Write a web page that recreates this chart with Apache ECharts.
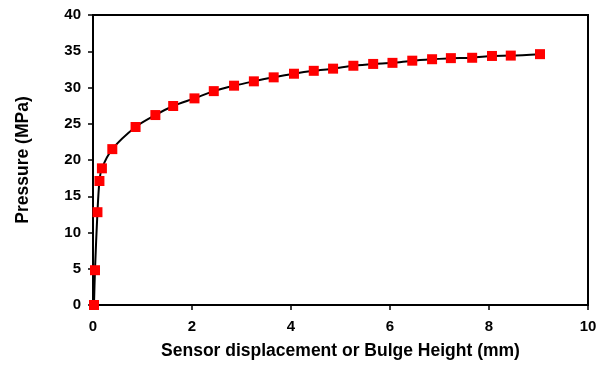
<!DOCTYPE html>
<html><head><meta charset="utf-8">
<script src="https://cdn.jsdelivr.net/npm/echarts@6/dist/echarts.min.js"></script>
<style>html,body{margin:0;padding:0;background:#fff}#c{width:607px;height:365px}</style>
</head><body><div id="c"></div>
<script>
const displacement = [0.02,0.04,0.09,0.13,0.18,0.39,0.86,1.26,1.62,2.05,2.44,2.85,3.25,3.65,4.06,4.46,4.85,5.26,5.66,6.05,6.45,6.85,7.23,7.66,8.06,8.44,9.03];
const pressure = [0,4.8,12.8,17.1,18.85,21.5,24.55,26.2,27.45,28.5,29.5,30.25,30.85,31.4,31.9,32.3,32.6,33.0,33.25,33.4,33.7,33.9,34.05,34.1,34.35,34.4,34.6];
const xTitle = 'Sensor displacement or Bulge Height (mm)';
const yTitle = 'Pressure (MPa)';
const pts = displacement.map((x,i)=>[x,pressure[i]]);
const font = {fontFamily:'Liberation Sans, Arial, sans-serif', fontWeight:'bold', color:'#000', fontSize:15};
const titleFont = Object.assign({},font,{fontSize:17.5});
const chart = echarts.init(document.getElementById('c'), null, {renderer:'canvas'});
chart.setOption({
  animation:false,
  grid:{left:93,right:19,top:15,bottom:60,show:true,borderColor:'#000',borderWidth:2,backgroundColor:'#fff'},
  xAxis:{type:'value',min:0,max:10,interval:2,
    name:xTitle,nameLocation:'middle',nameGap:37,nameTextStyle:titleFont,
    axisLine:{lineStyle:{color:'#000',width:2}},axisTick:{show:true,length:5,lineStyle:{color:'#000',width:1.5}},
    axisLabel:Object.assign({},font,{margin:14}),splitLine:{show:false}},
  yAxis:{type:'value',min:0,max:40,interval:5,
    name:yTitle,nameLocation:'middle',nameGap:61,nameRotate:90,nameTextStyle:titleFont,
    axisLine:{show:true,lineStyle:{color:'#000',width:2}},axisTick:{show:true,length:5,lineStyle:{color:'#000',width:1.5}},
    axisLabel:Object.assign({},font,{margin:12}),splitLine:{show:false}},
  series:[{type:'line',data:pts,smooth:0.3,symbol:'rect',symbolSize:10,
    lineStyle:{color:'#000',width:2},itemStyle:{color:'#ff0000'},z:3}]
});
</script></body></html>
